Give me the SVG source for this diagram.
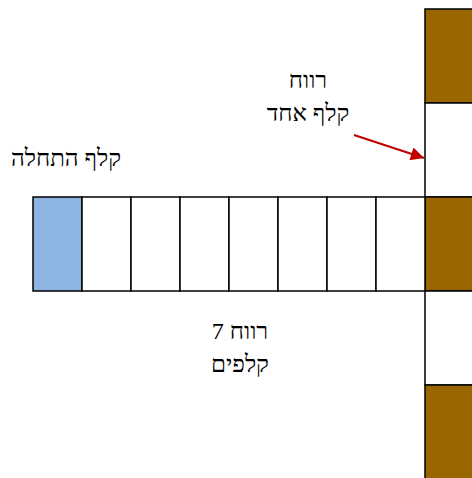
<svg xmlns="http://www.w3.org/2000/svg" width="472" height="478" viewBox="0 0 472 478">
<style>
.c{stroke:#000;stroke-width:1.5}
.w{fill:#fff}
.b{fill:#996600}
.s{fill:#8EB4E3}
.t{font-family:"Liberation Serif","DejaVu Serif",serif;font-size:24px;fill:#000;text-anchor:middle;direction:rtl;unicode-bidi:embed}
</style>
<defs>
<marker id="ah" viewBox="0 0 10 10" refX="10" refY="5" markerWidth="7" markerHeight="6" orient="auto" markerUnits="strokeWidth">
<path d="M0,0 L10,5 L0,10 z" fill="#C00000"/>
</marker>
</defs>
<rect width="472" height="478" fill="#fff"/>
<g id="column">
<rect class="c b" x="425" y="9" width="60" height="94"/>
<rect class="c w" x="425" y="103" width="60" height="94"/>
<rect class="c b" x="425" y="197" width="60" height="94"/>
<rect class="c w" x="425" y="291" width="60" height="94"/>
<rect class="c b" x="425" y="385" width="60" height="100"/>
</g>
<g id="row">
<rect class="c s" x="33" y="197" width="49" height="94"/>
<rect class="c w" x="82" y="197" width="49" height="94"/>
<rect class="c w" x="131" y="197" width="49" height="94"/>
<rect class="c w" x="180" y="197" width="49" height="94"/>
<rect class="c w" x="229" y="197" width="49" height="94"/>
<rect class="c w" x="278" y="197" width="49" height="94"/>
<rect class="c w" x="327" y="197" width="49" height="94"/>
<rect class="c w" x="376" y="197" width="49" height="94"/>
</g>
<g id="labels">
<text class="t" x="308" y="88">רווח</text>
<text class="t" x="308" y="121">קלף אחד</text>
<text class="t" x="66" y="166">קלף התחלה</text>
<text class="t" x="240" y="339">רווח 7</text>
<text class="t" x="240" y="372">קלפים</text>
</g>
<g id="connectors">
<line x1="354" y1="135" x2="424" y2="158" stroke="#C00000" stroke-width="2.2" marker-end="url(#ah)"/>
</g>
</svg>
